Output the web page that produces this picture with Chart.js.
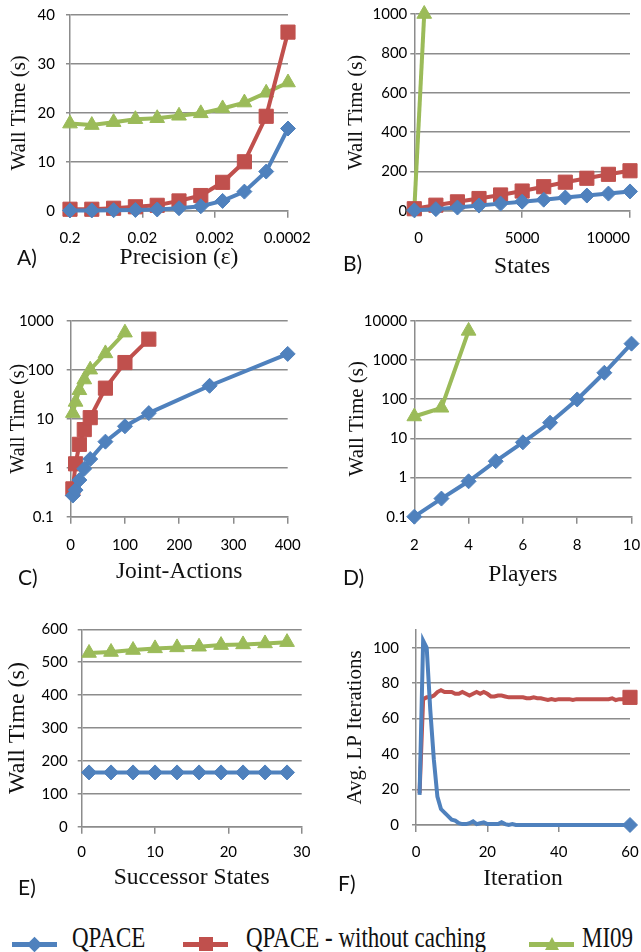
<!DOCTYPE html>
<html>
<head>
<meta charset="utf-8">
<script src="https://cdn.jsdelivr.net/npm/chart.js@4.4.1/dist/chart.umd.min.js"></script>
<style>
  body { margin: 0; background: #fff; }
  #page { position: relative; width: 641px; height: 952px; overflow: hidden; }
  canvas { position: absolute; }
  .tag { position: absolute; font-family: Lato, sans-serif; font-size: 21px; line-height: 24px; color: #111; }
  .leg-line { position: absolute; top: 941.5px; width: 45px; height: 5px; }
  .leg-text { position: absolute; top: 926.6px; font-family: 'Liberation Serif', serif; font-size: 23px;
              line-height: 26px; color: #111; white-space: nowrap; transform: scaleY(1.25); transform-origin: 0 20.4px; }
  .diamond { position: absolute; width: 11px; height: 11px; transform: rotate(45deg); }
  .square { position: absolute; width: 14px; height: 14px; }
  .tri { position: absolute; width: 0; height: 0; border-left: 7px solid transparent; border-right: 7px solid transparent; }
</style>
</head>
<body>
<div id="page">
  <canvas id="cA" width="320" height="290" style="left:0;top:0"></canvas>
  <canvas id="cB" width="321" height="290" style="left:320px;top:0"></canvas>
  <canvas id="cC" width="320" height="300" style="left:0;top:300px"></canvas>
  <canvas id="cD" width="321" height="300" style="left:320px;top:300px"></canvas>
  <canvas id="cE" width="320" height="295" style="left:0;top:610px"></canvas>
  <canvas id="cF" width="321" height="295" style="left:320px;top:610px"></canvas>

  <div class="tag" style="left:17px;top:244.5px">A)</div>
  <div class="tag" style="left:343px;top:250.5px">B)</div>
  <div class="tag" style="left:18px;top:564.5px">C)</div>
  <div class="tag" style="left:343px;top:564.5px">D)</div>
  <div class="tag" style="left:18px;top:874.5px">E)</div>
  <div class="tag" style="left:338px;top:870.5px">F)</div>

  <!-- legend -->
  <div class="leg-line" style="left:12px;background:#4F81BD"></div>
  <div class="diamond" style="left:29px;top:938.5px;background:#4F81BD"></div>
  <div class="leg-text" style="left:72px">QPACE</div>
  <div class="leg-line" style="left:183px;background:#C0504D"></div>
  <div class="square" style="left:198.5px;top:937px;background:#C0504D"></div>
  <div class="leg-text" style="left:246px">QPACE - without caching</div>
  <div class="leg-line" style="left:529px;background:#9BBB59"></div>
  <div class="tri" style="left:544.5px;top:937px;border-bottom:13px solid #9BBB59"></div>
  <div class="leg-text" style="left:582px">MI09</div>
</div>

<script>
// === A) precision ===
const precEps = [0.2, 0.1, 0.05, 0.025, 0.0125, 0.00625, 0.003125, 0.0015625, 0.00078125, 0.000390625, 0.0001953125];
const precQpace = [0.05, 0.05, 0.1, 0.15, 0.25, 0.5, 0.9, 2.0, 3.9, 8.0, 16.8];
const precNoCache = [0.3, 0.3, 0.5, 0.8, 1.1, 2.0, 3.1, 5.8, 10, 19.3, 36.5];
const precMI09 = [17.8, 17.5, 18.1, 18.7, 18.9, 19.4, 19.9, 20.9, 22.1, 24.1, 26.2];
const precTicks = [0.2, 0.02, 0.002, 0.0002];

// === B) states ===
const statesX = [0, 1000, 2000, 3000, 4000, 5000, 6000, 7000, 8000, 9000, 10000];
const statesQpace = [2, 8, 16, 26, 36, 46, 56, 67, 77, 87, 98];
const statesNoCache = [10, 28, 45, 62, 80, 100, 122, 145, 165, 185, 203];
const statesMI09X = [0, 460];
const statesMI09 = [5, 1000];

// === C) joint actions ===
const jointX = [4, 9, 16, 25, 36, 64, 100, 144, 256, 400];
const jointQpace = [0.27, 0.35, 0.56, 0.95, 1.5, 3.4, 7, 13, 47, 210];
const jointNoCacheX = [4, 9, 16, 25, 36, 64, 100, 144];
const jointNoCache = [0.37, 1.2, 3.0, 6.0, 10.5, 42, 140, 420];
const jointMI09X = [4, 9, 16, 25, 36, 64, 100];
const jointMI09 = [13, 22, 38, 63, 100, 215, 570];
const jointTicks = [0.1, 1, 10, 100, 1000];

// === D) players ===
const playersX = [2, 3, 4, 5, 6, 7, 8, 9, 10];
const playersQpace = [0.1, 0.29, 0.8, 2.6, 7.9, 25, 98, 470, 2600];
const playersMI09X = [2, 3, 4];
const playersMI09 = [36, 60, 5500];
const playersTicks = [0.1, 1, 10, 100, 1000, 10000];

// === E) successor states ===
const succX = [1, 4, 7, 10, 13, 16, 19, 22, 25, 28];
const succQpace = [165, 165, 165, 165, 165, 165, 165, 165, 165, 165];
const succMI09 = [528, 531, 537, 542, 545, 547, 552, 554, 557, 561];

// === F) iterations ===
const iterX = [1, 2, 3, 4, 5, 6, 7, 8, 9, 10, 11, 12, 13, 14, 15, 16, 17, 18, 19, 20,
  21, 22, 23, 24, 25, 26, 27, 28, 29, 30, 31, 32, 33, 34, 35, 36, 37, 38, 39, 40,
  41, 42, 43, 44, 45, 46, 47, 48, 49, 50, 51, 52, 53, 54, 55, 56, 57, 58, 59, 60];
const iterQpace = [17, 104, 100, 65, 37, 16, 9, 7, 5, 3, 2.5, 1, 0.5, 0.5, 1, 2, 0.5, 1, 1.5, 0.5,
  0.5, 0.5, 0.5, 1.5, 0.5, 0, 0.5, 0, 0, 0, 0, 0, 0, 0, 0, 0, 0, 0, 0, 0,
  0, 0, 0, 0, 0, 0, 0, 0, 0, 0, 0, 0, 0, 0, 0, 0, 0, 0, 0, 0];
const iterNoCache = [18, 71, 72, 72, 73, 75, 76, 75, 75, 75, 74, 74, 75, 74, 73, 74, 75, 74, 75, 74,
  72.5, 72.5, 73, 73, 72.5, 72, 72, 72, 72, 72, 71.5, 71.5, 72, 71.5, 71.5, 71, 70.5, 71, 70.5, 71,
  71, 71, 71, 70.5, 71, 71, 71, 71, 71, 71, 71, 71, 71, 71, 71.5, 70.5, 71, 71, 71.5, 72];
const iterTicks = [0, 20, 40, 60, 80, 100];

const BLUE = '#4F81BD', RED = '#C0504D', GREEN = '#9BBB59', GRID = '#8c8c8c';
const SERIF = "'Liberation Serif', serif";
Chart.defaults.font.family = 'Lato';

function series(color, style, radius, xs, ys, lastOnly) {
  return {
    data: xs.map((x, i) => ({ x: x, y: ys[i] })),
    borderColor: color,
    backgroundColor: color,
    borderWidth: 4,
    pointStyle: style,
    pointRadius: lastOnly ? xs.map((_, i) => (i === xs.length - 1 ? radius : 0)) : radius,
    pointBorderWidth: 1,
    pointBackgroundColor: color,
    pointBorderColor: color,
    tension: 0,
    clip: false,
  };
}
const qpace = (xs, ys, lastOnly) => series(BLUE, 'rectRot', 7.5, xs, ys, lastOnly);
const noCache = (xs, ys, lastOnly) => series(RED, 'rect', 10, xs, ys, lastOnly);
const mi09 = (xs, ys) => series(GREEN, 'triangle', 8.5, xs, ys, false);

function axis(o, side) {
  const a = {
    type: o.type || 'linear',
    min: o.min, max: o.max,
    reverse: !!o.reverse,
    border: { color: GRID, width: 1.5 },
    grid: side === 'x'
      ? { drawOnChartArea: false, color: GRID, lineWidth: 1.5, tickLength: 7 }
      : { color: GRID, lineWidth: 1.5, tickLength: 4 },
    ticks: {
      color: '#000', font: { size: 15 }, padding: o.tickPad,
      maxRotation: 0, autoSkip: false, align: o.align || 'center',
      callback: v => String(v),
    },
    title: {
      display: true, text: o.title, color: '#111',
      font: { family: SERIF, size: o.titleSize },
      padding: side === 'x' ? { top: 0, bottom: o.titlePad } : { top: o.titlePad, bottom: 0 },
    },
  };
  if (o.step) a.ticks.stepSize = o.step;
  if (o.ticks) a.afterBuildTicks = s => { s.ticks = o.ticks.map(v => ({ value: v })); };
  // fixed axis boxes, so the plot area sits where the figure has it
  if (side === 'x') a.afterFit = s => { s.height = o.size; s.paddingLeft = 0; s.paddingRight = 0; };
  else a.afterFit = s => { s.width = o.size; s.paddingTop = 0; s.paddingBottom = 0; };
  return a;
}

function panel(id, pad, x, y, datasets) {
  new Chart(document.getElementById(id), {
    type: 'line',
    data: { datasets: datasets },
    options: {
      responsive: false,
      animation: false,
      layout: { padding: { left: 0, top: pad.top, right: pad.right, bottom: 0 } },
      plugins: { legend: { display: false }, tooltip: { enabled: false } },
      scales: { x: axis(x, 'x'), y: axis(y, 'y') },
    },
  });
}

panel('cA', { top: 15, right: 32 },
  { type: 'logarithmic', reverse: true, min: 0.0001953125, max: 0.2, ticks: precTicks, size: 79.3,
    tickPad: 11.3, title: 'Precision (\u03b5)', titleSize: 23.5, titlePad: 17.9 },
  { min: 0, max: 40, step: 10, size: 70, tickPad: 11, title: 'Wall Time (s)', titleSize: 21, titlePad: 6.4 },
  [qpace(precEps, precQpace), noCache(precEps, precNoCache), mi09(precEps, precMI09)]);

panel('cB', { top: 14, right: 9.3 },
  { min: 0, max: 10000, step: 5000, size: 79.3, tickPad: 11.3, align: 'inner',
    title: 'States', titleSize: 23.5, titlePad: 8.9 },
  { min: 0, max: 1000, step: 200, size: 94.3, tickPad: 3, title: 'Wall Time (s)', titleSize: 21, titlePad: 23.4 },
  [qpace(statesX, statesQpace), noCache(statesX, statesNoCache), mi09(statesMI09X, statesMI09)]);

panel('cC', { top: 20.7, right: 32.3 },
  { min: 0, max: 400, step: 100, size: 83.3, tickPad: 12.3, title: 'Joint-Actions', titleSize: 23.5, titlePad: 13.9 },
  { type: 'logarithmic', min: 0.1, max: 1000, ticks: jointTicks, size: 70.7, tickPad: 13,
    title: 'Wall Time (s)', titleSize: 20, titlePad: 6.4 },
  [qpace(jointX, jointQpace), noCache(jointNoCacheX, jointNoCache), mi09(jointMI09X, jointMI09)]);

panel('cD', { top: 20.7, right: 9.3 },
  { min: 2, max: 10, step: 2, size: 83.3, tickPad: 12.3, title: 'Players', titleSize: 23.5, titlePad: 10.9 },
  { type: 'logarithmic', min: 0.1, max: 10000, ticks: playersTicks, size: 94.3, tickPad: 3,
    title: 'Wall Time (s)', titleSize: 21, titlePad: 24.4 },
  [qpace(playersX, playersQpace), mi09(playersMI09X, playersMI09)]);

panel('cE', { top: 19.3, right: 18.3 },
  { min: 0, max: 30, step: 10, size: 78.3, tickPad: 9.3, title: 'Successor States', titleSize: 23.5, titlePad: 12.9 },
  { min: 0, max: 600, step: 100, size: 81.7, tickPad: 10, title: 'Wall Time (s)', titleSize: 24, titlePad: 3.6 },
  [qpace(succX, succQpace), mi09(succX, succMI09)]);

panel('cF', { top: 20, right: 9.3 },
  { min: 0, max: 60, step: 20, size: 80, tickPad: 11, title: 'Iteration', titleSize: 23.5, titlePad: 11.9 },
  { min: 0, max: 110, ticks: iterTicks, size: 96, tickPad: 13, title: 'Avg. LP Iterations', titleSize: 21, titlePad: 22.4 },
  [qpace(iterX, iterQpace, true), noCache(iterX, iterNoCache, true)]);
</script>
</body>
</html>
